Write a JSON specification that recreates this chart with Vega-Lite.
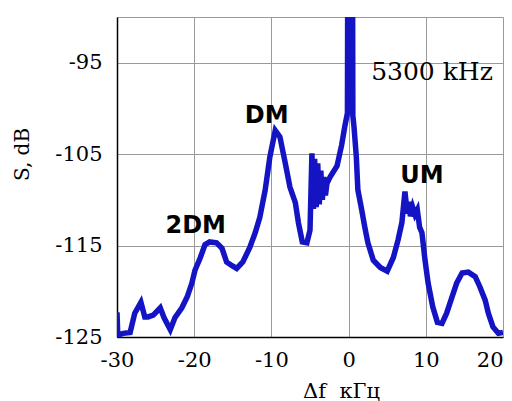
{
  "$schema": "https://vega.github.io/schema/vega-lite/v6.json",
  "autosize": {"type": "none"},
  "padding": {"left": 117, "top": 17, "right": 9, "bottom": 64},
  "width": 386,
  "height": 320,
  "config": {
    "view": {"stroke": null},
    "background": "white",
    "axis": {
      "grid": true, "gridColor": "#9a9a9a", "gridWidth": 1, "gridOpacity": 1,
      "ticks": false, "domainColor": "black", "domainWidth": 1.5,
      "labelFont": "DejaVu Serif", "labelFontSize": 21, "labelColor": "black",
      "labelFlush": false,
      "titleFont": "DejaVu Serif", "titleFontWeight": "normal", "titleColor": "black"
    }
  },
  "datasets": {
    "spectrum": [
      {"df": -30.0, "s": -122.3}, {"df": -29.9, "s": -124.8}, {"df": -29.2, "s": -124.6},
      {"df": -28.3, "s": -124.5}, {"df": -27.7, "s": -122.4}, {"df": -26.9, "s": -121.2},
      {"df": -26.4, "s": -122.8}, {"df": -26.0, "s": -122.8}, {"df": -25.3, "s": -122.6},
      {"df": -24.4, "s": -121.8}, {"df": -23.9, "s": -122.9}, {"df": -23.1, "s": -124.2},
      {"df": -22.5, "s": -122.9}, {"df": -21.6, "s": -121.8}, {"df": -20.9, "s": -120.6},
      {"df": -20.3, "s": -119.1}, {"df": -19.9, "s": -117.7}, {"df": -19.2, "s": -116.3},
      {"df": -18.6, "s": -114.9}, {"df": -18.0, "s": -114.6}, {"df": -17.1, "s": -114.7},
      {"df": -16.4, "s": -115.3}, {"df": -15.8, "s": -116.8}, {"df": -15.1, "s": -117.2},
      {"df": -14.5, "s": -117.5}, {"df": -13.7, "s": -116.8}, {"df": -12.8, "s": -115.2},
      {"df": -12.1, "s": -113.6}, {"df": -11.5, "s": -111.9}, {"df": -10.8, "s": -108.9},
      {"df": -10.2, "s": -105.3}, {"df": -9.5, "s": -102.4}, {"df": -8.9, "s": -103.1},
      {"df": -8.2, "s": -106.0}, {"df": -7.6, "s": -108.6}, {"df": -6.9, "s": -110.3},
      {"df": -6.5, "s": -112.5}, {"df": -6.0, "s": -114.6}, {"df": -5.4, "s": -114.7},
      {"df": -5.0, "s": -113.3}, {"df": -4.75, "s": -104.9}, {"df": -4.55, "s": -111.0},
      {"df": -4.4, "s": -105.5}, {"df": -4.2, "s": -110.8}, {"df": -4.0, "s": -106.0},
      {"df": -3.8, "s": -110.5}, {"df": -3.6, "s": -106.8}, {"df": -3.4, "s": -110.0},
      {"df": -3.2, "s": -107.5}, {"df": -3.0, "s": -109.5}, {"df": -2.8, "s": -108.2},
      {"df": -2.4, "s": -107.5}, {"df": -1.5, "s": -106.3}, {"df": -0.9, "s": -104.0},
      {"df": -0.5, "s": -102.0}, {"df": -0.15, "s": -100.5}, {"df": -0.1, "s": -80.0},
      {"df": 0.5, "s": -80.0}, {"df": 0.55, "s": -100.8}, {"df": 0.7, "s": -102.0},
      {"df": 1.0, "s": -105.3}, {"df": 1.2, "s": -108.9}, {"df": 1.7, "s": -111.1},
      {"df": 2.1, "s": -113.0}, {"df": 2.5, "s": -114.7}, {"df": 3.2, "s": -116.6},
      {"df": 4.1, "s": -117.4}, {"df": 5.0, "s": -117.8}, {"df": 5.8, "s": -116.3},
      {"df": 6.4, "s": -114.4}, {"df": 6.9, "s": -112.5}, {"df": 7.3, "s": -109.1},
      {"df": 7.6, "s": -111.5}, {"df": 7.8, "s": -110.2}, {"df": 8.0, "s": -111.8},
      {"df": 8.3, "s": -110.8}, {"df": 8.6, "s": -111.6}, {"df": 8.9, "s": -111.1},
      {"df": 9.2, "s": -113.0}, {"df": 9.5, "s": -113.6}, {"df": 9.9, "s": -116.6},
      {"df": 10.3, "s": -119.1}, {"df": 10.9, "s": -121.7}, {"df": 11.5, "s": -123.4},
      {"df": 12.1, "s": -123.5}, {"df": 12.7, "s": -122.4}, {"df": 13.4, "s": -120.6},
      {"df": 14.0, "s": -119.1}, {"df": 14.7, "s": -118.0}, {"df": 15.5, "s": -117.9},
      {"df": 16.4, "s": -118.4}, {"df": 17.0, "s": -119.5}, {"df": 17.7, "s": -121.0},
      {"df": 18.1, "s": -122.4}, {"df": 18.7, "s": -123.9}, {"df": 19.4, "s": -124.6},
      {"df": 20.0, "s": -124.5}
    ],
    "bands": [
      {"df": -19.8, "s": -113.6, "label": "2DM"},
      {"df": -10.6, "s": -101.6, "label": "DM"},
      {"df": 9.5, "s": -108.2, "label": "UM"}
    ],
    "carrier": [
      {"df": 10.8, "s": -96.9, "label": "5300 kHz"}
    ]
  },
  "layer": [
    {
      "data": {"name": "spectrum"},
      "mark": {"type": "line", "color": "#1414c4", "strokeWidth": 5.5, "clip": true, "strokeJoin": "miter"},
      "encoding": {
        "x": {
          "field": "df", "type": "quantitative",
          "scale": {"domain": [-30, 20], "nice": false, "zero": false},
          "axis": {
            "orient": "bottom",
            "values": [-30, -20, -10, 0, 10, 20],
            "labelExpr": "'' + datum.value",
            "labelAlign": {"expr": "datum.value == 20 ? 'right' : 'center'"},
            "labelPadding": 12,
            "title": "Δf\u00a0\u00a0кГц",
            "titleFontSize": 21,
            "titleX": 224, "titleY": 60, "titleBaseline": "alphabetic"
          }
        },
        "y": {
          "field": "s", "type": "quantitative",
          "scale": {"domain": [-125, -90], "nice": false, "zero": false},
          "axis": {
            "orient": "left",
            "values": [-125, -115, -105, -95, -90],
            "labelExpr": "datum.value == -90 ? '' : '' + datum.value",
            "labelPadding": 15,
            "title": "S, dB",
            "titleFontSize": 20,
            "titleX": -95, "titleY": 137, "titleAngle": -90,
            "titleAlign": "center", "titleBaseline": "middle"
          }
        }
      }
    },
    {
      "mark": {"type": "rule", "color": "#888888", "strokeWidth": 1.5},
      "encoding": {"x": {"datum": 20}}
    },
    {
      "data": {"name": "bands"},
      "mark": {"type": "text", "font": "DejaVu Sans", "fontSize": 24, "fontWeight": "bold", "color": "black", "align": "center", "baseline": "alphabetic"},
      "encoding": {
        "x": {"field": "df", "type": "quantitative"},
        "y": {"field": "s", "type": "quantitative"},
        "text": {"field": "label"}
      }
    },
    {
      "data": {"name": "carrier"},
      "mark": {"type": "text", "font": "DejaVu Serif", "fontSize": 25, "color": "black", "align": "center", "baseline": "alphabetic"},
      "encoding": {
        "x": {"field": "df", "type": "quantitative"},
        "y": {"field": "s", "type": "quantitative"},
        "text": {"field": "label"}
      }
    }
  ]
}
